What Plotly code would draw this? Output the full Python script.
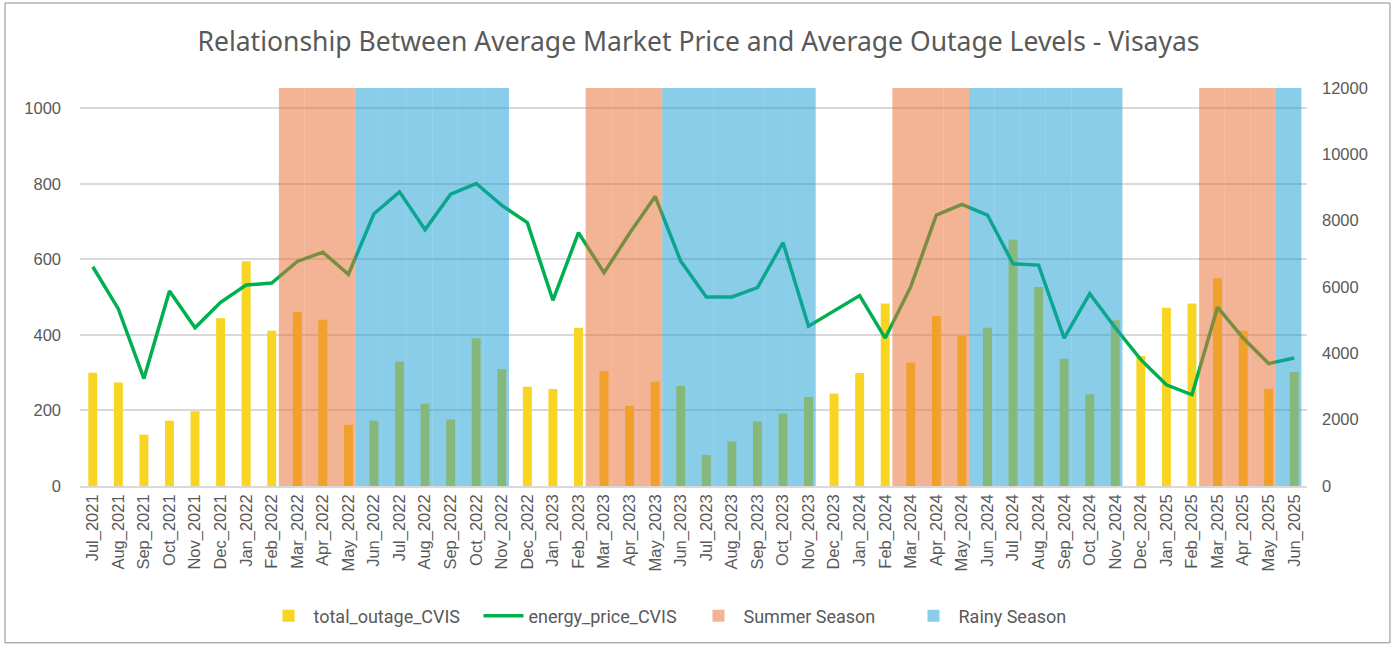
import plotly.graph_objects as go

months = ["Jul_2021","Aug_2021","Sep_2021","Oct_2021","Nov_2021","Dec_2021",
          "Jan_2022","Feb_2022","Mar_2022","Apr_2022","May_2022","Jun_2022",
          "Jul_2022","Aug_2022","Sep_2022","Oct_2022","Nov_2022","Dec_2022",
          "Jan_2023","Feb_2023","Mar_2023","Apr_2023","May_2023","Jun_2023",
          "Jul_2023","Aug_2023","Sep_2023","Oct_2023","Nov_2023","Dec_2023",
          "Jan_2024","Feb_2024","Mar_2024","Apr_2024","May_2024","Jun_2024",
          "Jul_2024","Aug_2024","Sep_2024","Oct_2024","Nov_2024","Dec_2024",
          "Jan_2025","Feb_2025","Mar_2025","Apr_2025","May_2025","Jun_2025"]

total_outage_CVIS = [300, 274, 136, 173, 198, 444,
                     595, 411, 461, 440, 162, 173,
                     330, 218, 176, 391, 310, 263,
                     257, 419, 304, 212, 276, 265,
                     82, 118, 171, 192, 236, 245,
                     299, 483, 327, 450, 398, 419,
                     653, 527, 337, 243, 439, 344,
                     472, 483, 550, 411, 257, 302]

energy_price_CVIS = [6610, 5340, 3240, 5880, 4770, 5540,
                     6060, 6120, 6770, 7050, 6380, 8210,
                     8870, 7730, 8800, 9120, 8460, 7940,
                     5600, 7640, 6430, 7620, 8730, 6780,
                     5700, 5700, 5980, 7340, 4820, 5270,
                     5740, 4460, 6010, 8170, 8490, 8170,
                     6700, 6660, 4460, 5800, 4770, 3810,
                     3050, 2750, 5390, 4460, 3690, 3860]

# Season shading (value on the secondary scale, None = no shading)
S = 12000
summer_season = [None, None, None, None, None, None,
                 None, None, S, S, S, None,
                 None, None, None, None, None, None,
                 None, None, S, S, S, None,
                 None, None, None, None, None, None,
                 None, None, S, S, S, None,
                 None, None, None, None, None, None,
                 None, None, S, S, S, None]
rainy_season = [None, None, None, None, None, None,
                None, None, None, None, None, S,
                S, S, S, S, S, None,
                None, None, None, None, None, S,
                S, S, S, S, S, None,
                None, None, None, None, None, S,
                S, S, S, S, S, None,
                None, None, None, None, None, S]

GRAY = "#595959"
fig = go.Figure()

fig.add_trace(go.Bar(
    x=months, y=total_outage_CVIS, name="total_outage_CVIS",
    marker=dict(color="#F9D523", line=dict(width=0)),
    width=0.35, offset=-0.175, yaxis="y"))

fig.add_trace(go.Scatter(
    x=months, y=energy_price_CVIS, name="energy_price_CVIS", mode="lines",
    line=dict(color="#00B050", width=3.5), yaxis="y2"))

fig.add_trace(go.Bar(
    x=months, y=summer_season, name="Summer Season",
    marker=dict(color="rgba(232,112,52,0.52)", line=dict(width=0)),
    width=1.0, offset=-0.72, yaxis="y3"))

fig.add_trace(go.Bar(
    x=months, y=rainy_season, name="Rainy Season",
    marker=dict(color="rgba(22,156,212,0.5)", line=dict(width=0)),
    width=1.0, offset=-0.72, yaxis="y3"))

fig.update_layout(
    width=1397, height=646,
    margin=dict(l=80, r=90, t=88, b=160, autoexpand=False),
    paper_bgcolor="white", plot_bgcolor="white",
    font=dict(family="Liberation Sans, Arial, sans-serif", color=GRAY, size=16),
    title=dict(text="Relationship Between Average Market Price and Average Outage Levels - Visayas",
               x=0.5, xanchor="center", y=0.935, yanchor="middle",
               font=dict(size=26.5, color=GRAY, family="Noto Sans, Open Sans, sans-serif")),
    barmode="overlay",
    showlegend=True,
    legend=dict(orientation="h", x=0.5, xanchor="center", y=-0.28, yanchor="top",
                bgcolor="rgba(0,0,0,0)",
                font=dict(size=18, color=GRAY,
                          family="Liberation Sans Narrow, Roboto, Liberation Sans, sans-serif"),
                traceorder="normal", itemwidth=40, entrywidth=160, entrywidthmode="pixels"),
    xaxis=dict(type="category", categoryorder="array", categoryarray=months,
               range=[-0.5, 47.5], tickangle=-90, tickfont=dict(size=16.5, color=GRAY),
               showgrid=False, showline=True, linecolor="#D9D9D9", linewidth=1.5,
               ticks="", ticklen=0, automargin=False),
    yaxis=dict(range=[0, 1054], dtick=200, tick0=0, showgrid=True, gridcolor="#D9D9D9",
               gridwidth=1.5, zeroline=False, showline=False, ticks="", automargin=False,
               tickfont=dict(size=16.5, color=GRAY), ticklabelstandoff=18),
    yaxis2=dict(range=[0, 12000], dtick=2000, tick0=0, overlaying="y", side="right",
                showgrid=False, zeroline=False, showline=False, ticks="", tickformat="d",
                automargin=False, tickfont=dict(size=16.5, color=GRAY), ticklabelstandoff=14),
    yaxis3=dict(range=[0, 12000], overlaying="y", side="right", visible=False,
                showgrid=False, zeroline=False),
    shapes=[dict(type="rect", xref="paper", yref="paper",
                 x0=-0.0611, x1=1.0676, y0=-0.394, y1=1.2136,
                 line=dict(color="#8C8C8C", width=1), fillcolor="rgba(0,0,0,0)", layer="below")],
)

fig.write_html("out.html", config={"displayModeBar": False},
               post_script="document.body.style.margin='0px';document.body.style.padding='0px';")
